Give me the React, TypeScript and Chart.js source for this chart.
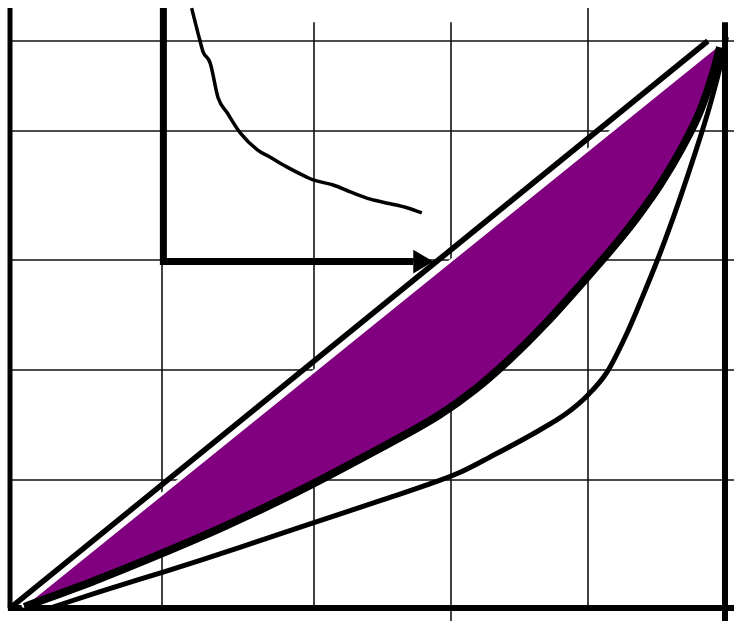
import React, { useEffect, useRef } from "react";
import { Chart, registerables } from "chart.js";

Chart.register(...registerables);

// Axis ranges (share of population on x, share of income on y, in %)
const xMin = -1.4;
const xMax = 101.26;
const yMin = -2.29;
const yMax = 107.23;

// Grid positions (irregular, as in the reference)
const xGridValues = [21.26, 42.52, 61.68, 80.84];
const xGridTops = [105.8, 103.3, 103.3, 105.8];
const xGridBottoms = [0, 0, -2.29, 0];
const yGridValues = [22.57, 41.98, 61.38, 84.13, 100];

// Line of equality
const equalityX = [0, 97.6];
const equalityY = [0, 100];

// Upper edge of the purple area
const edgeX = [1.7, 99.0];
const edgeY = [0.2, 99.3];

// Lorenz curve A (thick, bounds the purple area)
const lorenzAX = [2, 12, 21, 30, 40, 50, 60, 65, 70, 75, 80, 85, 88, 91, 94, 96.5, 98.5, 99.3];
const lorenzAY = [0.2, 4.9, 9.5, 14.4, 20.4, 27, 34, 38.5, 44, 50.3, 57.3, 64.6, 69.4, 74.8, 81.2, 87.6, 95, 98.9];

// Lorenz curve B (lower)
const lorenzBX = [5.6, 12.6, 21.3, 26.6, 33.6, 42.4, 52.2, 59.2, 62.9, 67.1, 74.1, 77.9, 80.7, 83.5, 86.3, 88.5, 90.5, 92, 93.5, 95.5, 97.9, 99.7, 100.2];
const lorenzBY = [0, 2.9, 6.3, 8.4, 11.3, 15.0, 19.1, 22.1, 23.9, 26.6, 31.4, 34.4, 37.4, 41.6, 48.5, 55, 61.2, 66.2, 71.5, 79, 88.7, 97.5, 100.7];

// Inset: axes and decreasing curve
const insetOriginX = 21.45;
const insetOriginY = 61.1;
const insetTopY = 105.8;
const insetArrowBaseX = 56.4;
const insetArrowTipX = 59.2;
const insetArrowHalf = 2.1;
const insetCurveX = [25.4, 26.6, 27.0, 28.0, 29.1, 30.4, 32.2, 34.6, 36.4, 38.7, 41.5, 42.4, 45.2, 47.6, 50.4, 53.2, 55.5, 57.6];
const insetCurveY = [105.8, 99.9, 98.1, 96.1, 90.0, 87.3, 83.8, 80.8, 79.5, 77.8, 76.0, 75.5, 74.6, 73.4, 72.1, 71.3, 70.6, 69.7];

const pts = (xs: number[], ys: number[]) => xs.map((x, i) => ({ x, y: ys[i] }));

const framePlugin = {
  id: "frame",
  beforeDatasetsDraw(chart: any) {
    const ctx = chart.ctx;
    const xs = chart.scales.x;
    const ys = chart.scales.y;
    const px = (v: number) => xs.getPixelForValue(v);
    const py = (v: number) => ys.getPixelForValue(v);
    ctx.save();
    // thin grid
    ctx.strokeStyle = "#111";
    ctx.lineWidth = 1.6;
    xGridValues.forEach((v, i) => {
      ctx.beginPath();
      ctx.moveTo(Math.round(px(v)), py(xGridTops[i]));
      ctx.lineTo(Math.round(px(v)), py(xGridBottoms[i]));
      ctx.stroke();
    });
    yGridValues.forEach((v) => {
      ctx.beginPath();
      ctx.moveTo(px(0), Math.round(py(v)));
      ctx.lineTo(px(xMax), Math.round(py(v)));
      ctx.stroke();
    });
    // thick main axes
    ctx.strokeStyle = "#000";
    ctx.lineWidth = 5;
    ctx.beginPath();
    ctx.moveTo(px(0), py(105.8));
    ctx.lineTo(px(0), py(0));
    ctx.stroke();
    ctx.lineWidth = 6;
    ctx.beginPath();
    ctx.moveTo(px(-0.3), py(0));
    ctx.lineTo(px(xMax), py(0));
    ctx.stroke();
    ctx.beginPath();
    ctx.moveTo(px(100), py(103.3));
    ctx.lineTo(px(100), py(yMin));
    ctx.stroke();
    // inset axes
    ctx.lineWidth = 7;
    ctx.beginPath();
    ctx.moveTo(px(insetOriginX), py(insetTopY));
    ctx.lineTo(px(insetOriginX), py(insetOriginY));
    ctx.lineTo(px(insetArrowBaseX), py(insetOriginY));
    ctx.stroke();
    ctx.fillStyle = "#000";
    ctx.beginPath();
    ctx.moveTo(px(insetArrowBaseX), py(insetOriginY + insetArrowHalf));
    ctx.lineTo(px(insetArrowTipX), py(insetOriginY));
    ctx.lineTo(px(insetArrowBaseX), py(insetOriginY - insetArrowHalf));
    ctx.closePath();
    ctx.fill();
    ctx.restore();
  },
};

export default function App() {
  const ref = useRef<HTMLCanvasElement>(null);
  useEffect(() => {
    if (!ref.current) return;
    const polygon = [
      ...pts(edgeX, edgeY),
      ...pts(lorenzAX, lorenzAY).reverse(),
    ];
    const common = { showLine: true, pointRadius: 0, pointHoverRadius: 0 };
    const chart = new Chart(ref.current, {
      type: "scatter",
      data: {
        datasets: [
          {
            ...common,
            data: polygon,
            backgroundColor: "#800080",
            borderColor: "#ffffff",
            borderWidth: 3,
            fill: "shape",
            tension: 0,
            order: 5,
          } as any,
          {
            ...common,
            data: pts(lorenzBX, lorenzBY),
            borderColor: "#000",
            borderWidth: 5,
            cubicInterpolationMode: "monotone",
            order: 4,
          },
          {
            ...common,
            data: pts(lorenzAX, lorenzAY),
            borderColor: "#000",
            borderWidth: 8,
            cubicInterpolationMode: "monotone",
            order: 3,
          },
          {
            ...common,
            data: pts(equalityX, equalityY),
            borderColor: "#000",
            borderWidth: 5.5,
            order: 2,
          },
          {
            ...common,
            data: pts(insetCurveX, insetCurveY),
            borderColor: "#000",
            borderWidth: 3.5,
            cubicInterpolationMode: "monotone",
            order: 1,
          },
        ],
      },
      options: {
        animation: false,
        responsive: false,
        events: [],
        layout: { padding: 0 },
        plugins: { legend: { display: false }, tooltip: { enabled: false } },
        scales: {
          x: { type: "linear", min: xMin, max: xMax, display: false },
          y: { type: "linear", min: yMin, max: yMax, display: false },
        },
      },
      plugins: [framePlugin],
    });
    return () => chart.destroy();
  }, []);
  return (
    <div style={{ position: "fixed", left: 0, top: 0, width: 734, height: 621, background: "#fff" }}>
      <canvas ref={ref} width={734} height={621} style={{ display: "block" }} />
    </div>
  );
}
